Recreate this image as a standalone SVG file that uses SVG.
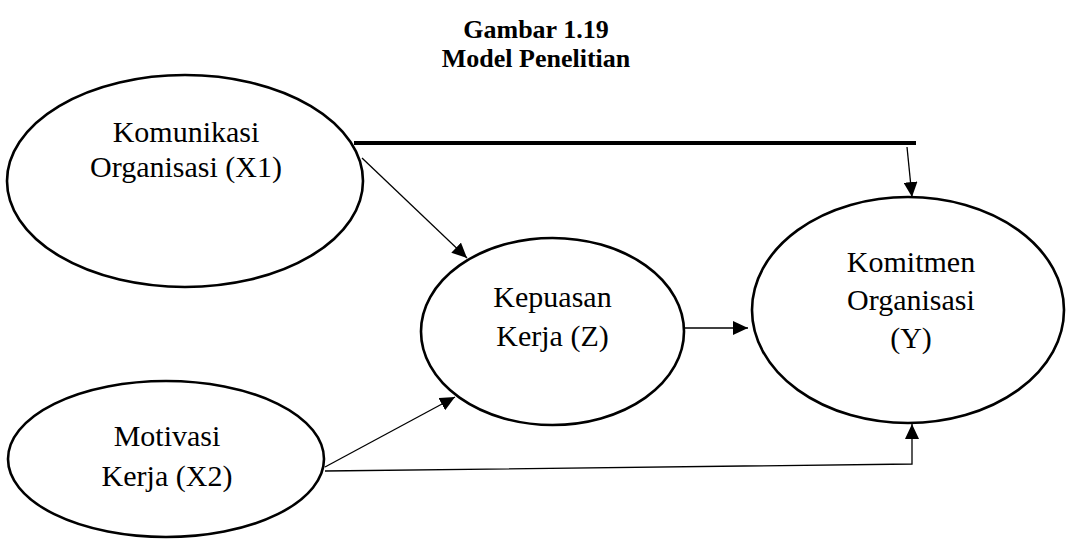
<svg xmlns="http://www.w3.org/2000/svg" width="1068" height="539" viewBox="0 0 1068 539">
<style>
.node{fill:#fff;stroke:#000;stroke-width:2.6}
.lbl{font-family:"Liberation Serif","Times New Roman",serif;font-size:30px;fill:#000;text-anchor:middle}
.title{font-family:"Liberation Serif","Times New Roman",serif;font-size:26px;font-weight:bold;fill:#000;text-anchor:middle}
.edge{fill:none;stroke:#000;stroke-width:1.3}
</style>
<defs>
<marker id="ah" markerUnits="userSpaceOnUse" markerWidth="16" markerHeight="14" refX="15" refY="7" orient="auto">
<path d="M0,0 L15,7 L0,14 Z" fill="#000"/>
</marker>
</defs>
<rect width="1068" height="539" fill="#fff"/>
<g id="title">
<text class="title" x="536" y="38">Gambar 1.19</text>
<text class="title" x="536" y="67">Model Penelitian</text>
</g>
<g id="connectors">
<line x1="354" y1="143" x2="916" y2="143" stroke="#000" stroke-width="4"/>
<line class="edge" x1="907" y1="147" x2="912" y2="197" marker-end="url(#ah)"/>
<line class="edge" x1="362" y1="158" x2="467" y2="258" marker-end="url(#ah)"/>
<line class="edge" x1="685" y1="328" x2="748" y2="328" marker-end="url(#ah)"/>
<line class="edge" x1="325" y1="467" x2="455" y2="397" marker-end="url(#ah)"/>
<polyline class="edge" points="325,471 912,464 912,424" marker-end="url(#ah)"/>
</g>
<g id="X1">
<ellipse class="node" cx="185" cy="181" rx="178" ry="106"/>
<text class="lbl" x="186" y="142">Komunikasi</text>
<text class="lbl" x="186" y="177">Organisasi (X1)</text>
</g>
<g id="X2">
<ellipse class="node" cx="166" cy="459" rx="158" ry="78"/>
<text class="lbl" x="167" y="446">Motivasi</text>
<text class="lbl" x="167" y="486">Kerja (X2)</text>
</g>
<g id="Z">
<ellipse class="node" cx="552.5" cy="331.5" rx="131.5" ry="93.5"/>
<text class="lbl" x="552.5" y="307">Kepuasan</text>
<text class="lbl" x="552.5" y="346">Kerja (Z)</text>
</g>
<g id="Y">
<ellipse class="node" cx="908" cy="310" rx="156" ry="113"/>
<text class="lbl" x="911" y="272">Komitmen</text>
<text class="lbl" x="911" y="310">Organisasi</text>
<text class="lbl" x="911" y="348">(Y)</text>
</g>
</svg>
